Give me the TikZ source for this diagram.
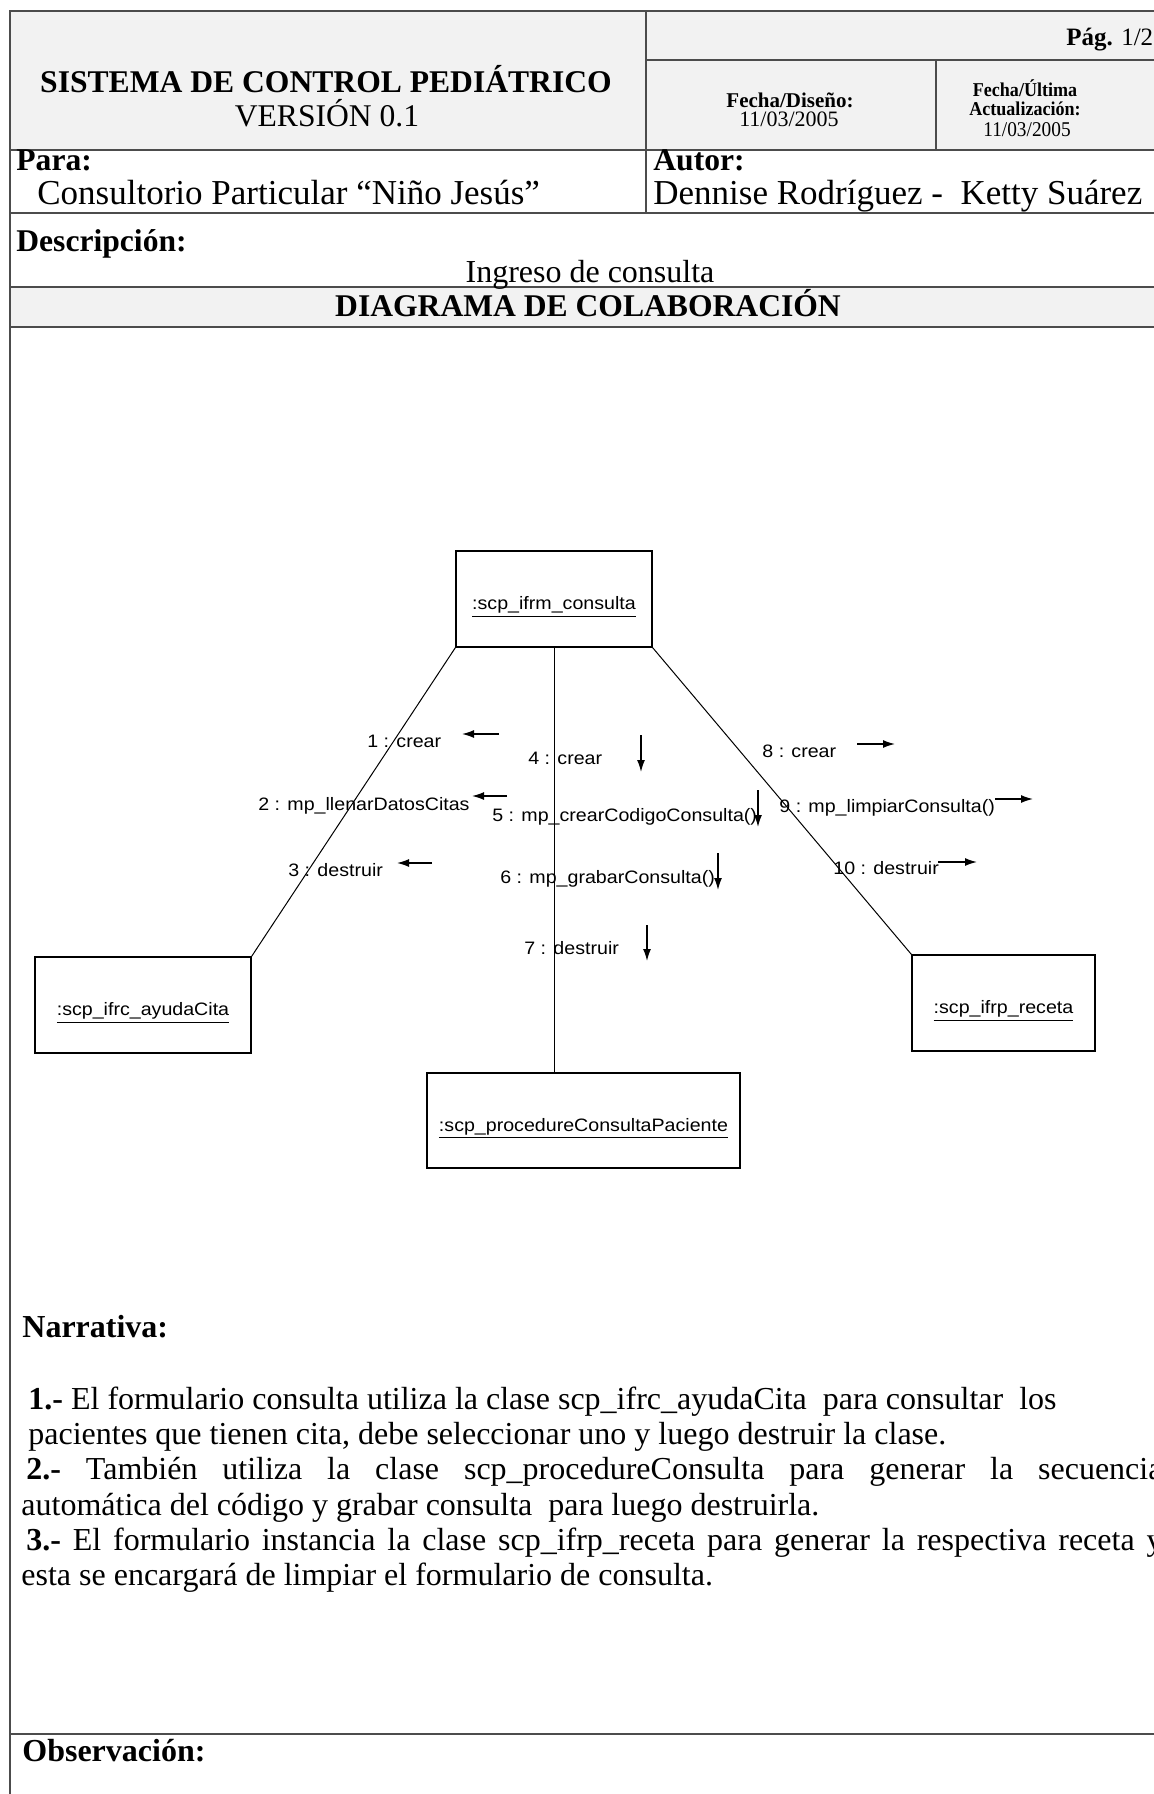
\documentclass[tikz,border=0pt]{standalone}
\usepackage{fontspec}
\setmainfont{Liberation Serif}
\newfontfamily\umlfont[FakeStretch=1.09]{Liberation Sans}
\newfontfamily\narrowserif[FakeStretch=0.92]{Liberation Serif}
\usetikzlibrary{arrows.meta}
\newcommand{\bigsz}{\fontsize{15.8}{19}\selectfont}
\newcommand{\narsz}{\fontsize{16}{19}\selectfont}
\newcommand{\midsz}{\fontsize{17.5}{20}\selectfont}
\newcommand{\ingsz}{\fontsize{16}{19}\selectfont}
\newcommand{\smlsz}{\fontsize{10.5}{12}\selectfont}
\newcommand{\datesz}{\fontsize{11}{13}\selectfont}
\newcommand{\tinysz}{\fontsize{9.8}{11}\selectfont}
\newcommand{\rdatesz}{\fontsize{10.5}{12}\selectfont}
\newcommand{\pagsz}{\fontsize{12.5}{15}\selectfont}
\newcommand{\umlsz}{\umlfont\fontsize{9}{11}\selectfont}
\newcommand{\objname}[1]{\raisebox{-4pt}[\height][\depth]{\underline{#1}}}

\begin{document}
\begin{tikzpicture}[x=0.5pt,y=-0.5pt,
  rule/.style={line width=0.9pt,black!70},
  txt/.style={inner sep=0pt,anchor=base west,font=\narsz},
  ctr/.style={inner sep=0pt,anchor=base},
  obj/.style={draw,line width=0.6pt,inner sep=0pt,minimum height=48pt,font=\umlsz},
  lnk/.style={line width=0.5pt},
  msglbl/.style={inner sep=0pt,anchor=base west,font=\umlsz},
  msg/.style={line width=0.7pt,-{Latex[length=6pt,width=4pt]}}]
  \useasboundingbox (0,0) rectangle (1154,1794);
  \fill[white] (0,0) rectangle (1154,1794);
  \fill[black!5] (10,11) rectangle (1154,150);
  \fill[black!5] (10,287) rectangle (1154,327);
  \draw[rule] (1154,11) -- (10,11) -- (10,1794);
  \draw[rule] (646,60) -- (1154,60);
  \draw[rule] (10,150) -- (1154,150);
  \draw[rule] (10,213) -- (1154,213);
  \draw[rule] (10,287) -- (1154,287);
  \draw[rule] (10,327) -- (1154,327);
  \draw[rule] (10,1734) -- (1154,1734);
  \draw[rule] (646,11) -- (646,213);
  \draw[rule] (936,60) -- (936,150);

  \node[ctr,font=\bfseries\bigsz] (sistema) at (326,92) {SISTEMA DE CONTROL PEDIÁTRICO};
  \node[ctr,font=\bigsz] (version) at (327,126) {VERSIÓN 0.1};
  \node[txt,font=\pagsz] (pag) at (1066,45) {\textbf{Pág.} 1/2};
  \node[ctr,font=\bfseries\smlsz] (fdiseno) at (790,107) {Fecha/Diseño:};
  \node[ctr,font=\datesz] (fdisenov) at (789,126) {11/03/2005};
  \node[ctr,font=\narrowserif\bfseries\tinysz] (fultima) at (1025,96) {Fecha/Última};
  \node[ctr,font=\narrowserif\bfseries\tinysz] (factual) at (1025,115) {Actualización:};
  \node[ctr,font=\narrowserif\rdatesz] (fultimav) at (1027,136) {11/03/2005};
  \node[txt,font=\bfseries\bigsz] (para) at (16,170) {Para:};
  \node[txt,font=\midsz] (cliente) at (37,204) {Consultorio Particular “Niño Jesús”};
  \node[txt,font=\bfseries\bigsz] (autor) at (653,170) {Autor:};
  \node[txt,font=\midsz] (autores) at (653,204) {Dennise Rodríguez -\ \ Ketty Suárez};
  \node[txt,font=\bfseries\bigsz] (descr) at (16,251) {Descripción:};
  \node[ctr,font=\ingsz] (ingreso) at (590,282) {Ingreso de consulta};
  \node[ctr,font=\bfseries\bigsz] (titulo) at (588,316) {DIAGRAMA DE COLABORACIÓN};

  \node[obj,minimum width=98pt] (consulta) at (554,599) {\objname{:scp\_ifrm\_consulta}};
  \node[obj,minimum width=108pt] (ayuda) at (143,1005) {\objname{:scp\_ifrc\_ayudaCita}};
  \node[obj,minimum width=91.5pt] (receta) at (1003.5,1003) {\objname{:scp\_ifrp\_receta}};
  \node[obj,minimum width=156.5pt,minimum height=47.5pt] (proc) at (583.5,1120.5) {\objname{:scp\_procedureConsultaPaciente}};
  \draw[lnk] (consulta.south west) -- (ayuda.north east);
  \draw[lnk] (consulta.south east) -- (receta.north west);
  \draw[lnk] (consulta.south) -- (consulta.south |- proc.north);

  \foreach \n/\x/\y/\t in {1/367/747/{1 : crear}, 2/258/810/{2 : mp\_llenarDatosCitas},
      3/288/876/{3 : destruir}, 4/528/764/{4 : crear}, 5/492/821/{5 : mp\_crearCodigoConsulta()},
      6/500/883/{6 : mp\_grabarConsulta()}, 7/524/954/{7 : destruir}, 8/762/757/{8 : crear},
      9/779/812/{9 : mp\_limpiarConsulta()}, 10/833/874/{10 : destruir}}
    \node[msglbl] (m\n) at (\x,\y) {\t};
  \foreach \n/\x/\y/\dx/\dy in {1/499/734/-37/0, 2/507/796/-35/0, 3/432/863/-35/0,
      4/641/735/0/37, 5/758/790/0/37, 6/718/853/0/37, 7/647/925/0/36,
      8/857/744/38/0, 9/995/799/38/0, 10/938/862/39/0}
    {\coordinate (s\n) at (\x,\y); \draw[msg] (s\n) -- ++(\dx,\dy);}

  \node[txt] (narrativa) at (22,1337) {\textbf{Narrativa:}};
  \node[txt] (n1) at (28,1409) {\textbf{1.-} El formulario consulta utiliza la clase scp\_ifrc\_ayudaCita\ \ para consultar\ \ los};
  \node[txt] (n2) at (28,1444) {pacientes que tienen cita, debe seleccionar uno y luego destruir la clase.};
  \node[txt] (n3) at (26,1479) {\makebox[568pt][s]{\textbf{2.-} También utiliza la clase scp\_procedureConsulta para generar la secuencia}};
  \node[txt] (n4) at (21,1515) {automática del código y grabar consulta\ \ para luego destruirla.};
  \node[txt] (n5) at (26,1550) {\makebox[568pt][s]{\textbf{3.-} El formulario instancia la clase scp\_ifrp\_receta para generar la respectiva receta y}};
  \node[txt] (n6) at (21,1585) {esta se encargará de limpiar el formulario de consulta.};
  \node[txt] (obs) at (22,1761) {\textbf{Observación:}};
\end{tikzpicture}
\end{document}
